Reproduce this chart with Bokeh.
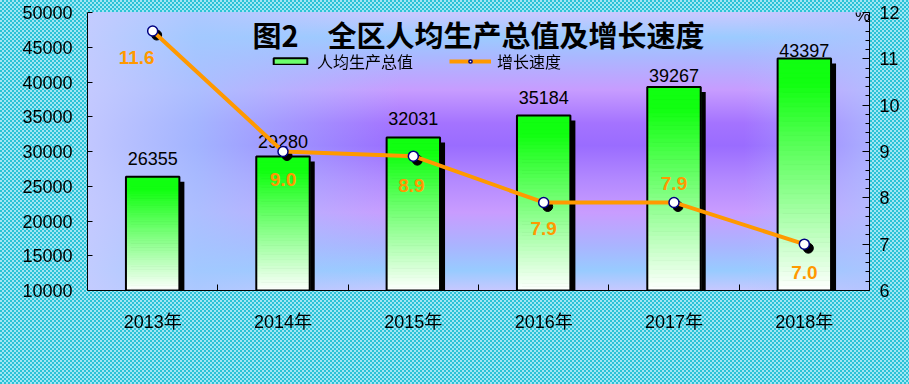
from bokeh.plotting import figure
from bokeh.models import (ColumnDataSource, Range1d, LinearAxis, FixedTicker,
                          Label, Legend, LegendItem)
from bokeh.core.properties import value
from bokeh.embed import file_html
from bokeh.resources import INLINE

# ---------------- data ----------------
years = ["2013年", "2014年", "2015年", "2016年", "2017年", "2018年"]
gdp_per_capita = [26355, 29280, 32031, 35184, 39267, 43397]
growth_rate = [11.6, 9.0, 8.9, 7.9, 7.9, 7.0]
gdp_ticks = [10000, 15000, 20000, 25000, 30000, 35000, 40000, 45000, 50000]
rate_ticks = [6, 7, 8, 9, 10, 11, 12]
title_text = "图2\u3000全区人均生产总值及增长速度"
series_names = ["人均生产总值", "增长速度"]

# ---------------- layout / style ----------------
W, H = 909, 384
FL, FR, FT, FB = 87, 869, 12, 290          # frame edges in page pixels
fw, fh = FR - FL, FB - FT
y0, y1 = gdp_ticks[0], gdp_ticks[-1]
r0, r1 = rate_ticks[0], rate_ticks[-1]
ncat = len(years)
px_x = ncat / fw                 # data units per pixel (x)
px_y = (y1 - y0) / fh            # data units per pixel (left y)
px_r = (r1 - r0) / fh            # data units per pixel (right y)

bar_width = 0.41
bar_label_gap = [12, 9, 12, 11, 5, 1]
rate_label_dx = [-16, 0, -2, 0, 0, 0]
rate_label_dy = [26, 28, 29, 26, -19, 28]
ORANGE = "#FF9900"
LATIN = "'Liberation Sans', 'Noto Sans CJK SC'"
CJK = "Noto Sans CJK SC"

xc = [i + 0.5 for i in range(ncat)]

texture = "repeating-conic-gradient(#2cc2d6 0% 25%, #a0e6f4 0% 50%) 0px 0px / 4px 4px"
vert = ("linear-gradient(to bottom, #cbc8ff 0%, #9ccbff 9%, #aab8ff 16%, #c79cff 28%, "
        "#a473ff 40%, #9a6cff 48%, #b288ff 60%, #c99cff 72%, #aab4ff 84%, #98cbff 93%, #c6c8ff 100%)")
side = ("linear-gradient(to right, rgba(196,204,255,0.95) 0%, rgba(165,200,255,0.78) 14%, "
        "rgba(165,200,255,0.0) 40%, rgba(165,200,255,0.0) 84%, rgba(175,195,255,0.75) 100%)")
frame_pos = f"{FL}px {FT}px / {fw}px {fh}px no-repeat"
bg = f"{side} {frame_pos}, {vert} {frame_pos}, {texture}"

p = figure(width=W, height=H, x_range=Range1d(0, ncat), y_range=Range1d(y0, y1),
           output_backend="svg", toolbar_location=None,
           x_axis_type=None, y_axis_type=None,
           min_border_left=FL, min_border_right=W - FR,
           min_border_top=FT, min_border_bottom=H - FB)
p.extra_y_ranges = {"pct": Range1d(r0, r1)}
p.background_fill_color = None
p.border_fill_color = None
p.outline_line_color = None
p.styles = {"position": "fixed", "left": "0px", "top": "0px", "background": bg}

# ---------------- axes ----------------
yl = LinearAxis(ticker=FixedTicker(ticks=gdp_ticks),
                major_tick_in=5, major_tick_out=0, minor_tick_line_color=None,
                major_label_standoff=15, major_label_text_font_size="18px",
                major_label_text_font=LATIN, major_label_text_color="black",
                axis_line_color="black", major_tick_line_color="black")
p.add_layout(yl, "left")

rate_minor = [r0 + k * 0.2 for k in range(int((r1 - r0) / 0.2) + 1)]
yr = LinearAxis(y_range_name="pct",
                ticker=FixedTicker(ticks=rate_ticks, minor_ticks=rate_minor),
                major_tick_in=7, major_tick_out=0, minor_tick_in=4, minor_tick_out=0,
                major_label_standoff=10, major_label_text_font_size="18px",
                major_label_text_font=LATIN, major_label_text_color="black",
                axis_line_color="black", major_tick_line_color="black",
                minor_tick_line_color="black")
p.add_layout(yr, "right")

xa = LinearAxis(ticker=FixedTicker(ticks=xc, minor_ticks=list(range(1, ncat))),
                major_label_overrides={c: y for c, y in zip(xc, years)},
                major_tick_in=0, major_tick_out=0, minor_tick_in=6, minor_tick_out=0,
                major_label_standoff=21, major_label_text_font_size="18px",
                major_label_text_font=LATIN, major_label_text_color="black",
                axis_line_color="black", minor_tick_line_color="black")
p.add_layout(xa, "below")

# ---------------- bars ----------------
# shadows
p.vbar(x=[x + 5 * px_x for x in xc], width=bar_width, bottom=y0,
       top=[v - 5 * px_y for v in gdp_per_capita],
       fill_color="black", line_color=None)

# gradient fill built as thin slices of each bar
N = 48
sx, sb, st, scol = [], [], [], []
green = (0x11, 0xff, 0x11)
for x, v in zip(xc, gdp_per_capita):
    for j in range(N):
        b = y0 + (v - y0) * j / N
        t = y0 + (v - y0) * (j + 1) / N
        s = min(1.0, ((j + 0.5) / N) * 1.12)   # 0 at bottom -> 1 near top
        c = tuple(int(round(255 + (g - 255) * s)) for g in green)
        sx.append(x); sb.append(b); st.append(t)
        scol.append("#%02x%02x%02x" % c)
# put a mid-tone slice first so that the legend swatch (row 0) shows it
k = int(N * 0.55)
for lst in (sx, sb, st, scol):
    lst[0], lst[k] = lst[k], lst[0]
slices = ColumnDataSource(dict(x=sx, bottom=sb, top=st, color=scol))
slice_r = p.vbar(x="x", bottom="bottom", top="top", width=bar_width, source=slices,
                 fill_color="color", line_color="color", line_width=1)

# outlines
outline_r = p.vbar(x=xc, width=bar_width, bottom=y0, top=gdp_per_capita,
                   fill_color=None, line_color="black", line_width=2)

# bar value labels
bar_lab = ColumnDataSource(dict(x=xc, y=gdp_per_capita,
                                t=[str(v) for v in gdp_per_capita],
                                dy=[-g for g in bar_label_gap]))
p.text(x="x", y="y", text="t", y_offset="dy", source=bar_lab,
       text_align="center", text_baseline="bottom",
       text_font=value("Liberation Sans"), text_font_size="18px", text_color="black")

# ---------------- growth line ----------------
p.scatter(x=[x + 4 * px_x for x in xc], y=[g - 4 * px_r for g in growth_rate],
          y_range_name="pct", size=10, fill_color="black", line_color="black")
line_r = p.line(x=xc, y=growth_rate, y_range_name="pct",
                line_color=ORANGE, line_width=4)
mark_r = p.scatter(x=xc, y=growth_rate, y_range_name="pct", size=10,
                   fill_color="white", line_color="#000080", line_width=1.5)

rate_lab = ColumnDataSource(dict(x=xc, y=growth_rate,
                                 t=[f"{g:.1f}" for g in growth_rate],
                                 dx=rate_label_dx, dy=rate_label_dy))
p.text(x="x", y="y", text="t", x_offset="dx", y_offset="dy", source=rate_lab,
       y_range_name="pct", text_align="center", text_baseline="middle",
       text_font=value("Liberation Sans"), text_font_style="bold",
       text_font_size="19px", text_color=ORANGE)

# ---------------- legend ----------------
legend = Legend(items=[LegendItem(label=value(series_names[0]),
                                  renderers=[slice_r, outline_r], index=0),
                       LegendItem(label=value(series_names[1]),
                                  renderers=[line_r, mark_r])],
                location=(182, 217), orientation="horizontal",
                glyph_width=42, glyph_height=8, label_standoff=6, spacing=36,
                padding=0, margin=0, border_line_color=None,
                background_fill_alpha=0,
                label_text_font=CJK, label_text_font_size="16px",
                label_text_color="black")
p.add_layout(legend)

# ---------------- titles / units ----------------
p.add_layout(Label(x=478 - FL, y=FB - 33, x_units="screen", y_units="screen",
                   text=title_text, text_align="center", text_baseline="middle",
                   text_font=CJK, text_font_style="bold",
                   text_font_size="29px", text_color="black"))
p.add_layout(Label(x=36 - FL, y=FB - 328, x_units="screen", y_units="screen",
                   text="元", text_align="center", text_baseline="middle",
                   text_font=CJK, text_font_size="17px", text_color="black"))
p.add_layout(Label(x=862 - FL, y=FB - 15, x_units="screen", y_units="screen",
                   text="%", text_align="center", text_baseline="middle",
                   text_font="Liberation Sans", text_font_size="17px",
                   text_color="black"))

open("out.html", "w").write(file_html(p, INLINE))
